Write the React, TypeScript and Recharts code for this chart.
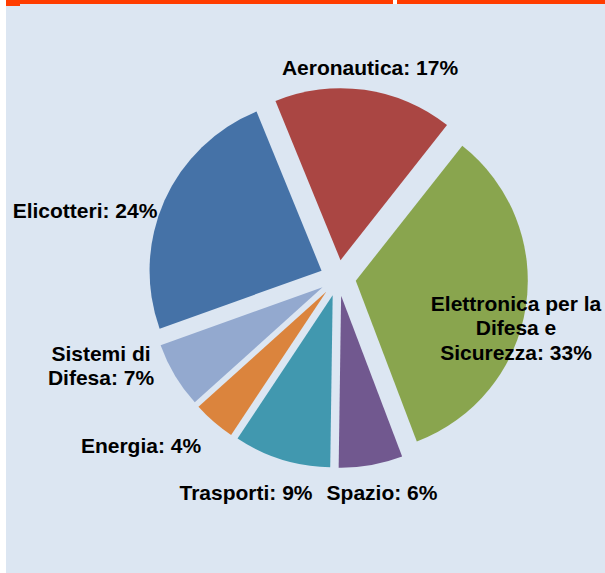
import { PieChart, Pie, Cell, Sector } from 'recharts'

const categories = [
  'Elicotteri',
  'Aeronautica',
  'Elettronica per la\nDifesa e\nSicurezza',
  'Spazio',
  'Trasporti',
  'Energia',
  'Sistemi di\nDifesa',
]
// slice sizes as drawn in the picture (%)
const shares = [24.3, 16.8, 33.6, 6.0, 9.1, 4.0, 6.2]
// percentages as printed on the labels
const labelPct = [24, 17, 33, 6, 9, 4, 7]

const COLORS = ['#4572A7', '#AA4643', '#89A54E', '#71588F', '#4198AF', '#DB843D', '#93A9CF']
// label centre, as offset from the pie centre (excel "best fit" placement)
const LABEL_POS: [number, number][] = [
  [-253, -68],
  [32, -211],
  [178, 49],
  [44, 214],
  [-92, 214],
  [-197, 167],
  [-237, 87],
]

const data = categories.map((name, i) => ({ name, value: shares[i] }))

const W = 605
const H = 573
const CX = 338
const CY = 278
const R = 172
const EXPLODE = 18
const START = -160.3
const RAD = Math.PI / 180
const FONT = 21
const LINE_H = 24.5

function ExplodedSlice(props: any) {
  const { cx, cy, midAngle, innerRadius, outerRadius, startAngle, endAngle, index, payload } = props
  const ox = Math.cos(-midAngle * RAD) * EXPLODE
  const oy = Math.sin(-midAngle * RAD) * EXPLODE
  const name: string = payload?.name ?? props.name
  const lines = `${name}: ${labelPct[index]}%`.split('\n')
  const [dx, dy] = LABEL_POS[index]
  const lx = cx + dx
  const ly0 = cy + dy - ((lines.length - 1) * LINE_H) / 2
  return (
    <g>
      <Sector
        cx={cx + ox}
        cy={cy + oy}
        innerRadius={innerRadius}
        outerRadius={outerRadius}
        startAngle={startAngle}
        endAngle={endAngle}
        fill={COLORS[index]}
        stroke="none"
      />
      <text
        x={lx}
        y={ly0}
        textAnchor="middle"
        dominantBaseline="central"
        fontFamily="'Liberation Sans', Arial, sans-serif"
        fontWeight="bold"
        fontSize={FONT}
        fill="#000"
      >
        {lines.map((ln, i) => (
          <tspan key={i} x={lx} y={ly0 + i * LINE_H}>
            {ln}
          </tspan>
        ))}
      </text>
    </g>
  )
}

export default function App() {
  return (
    <div style={{ position: 'absolute', left: 0, top: 0, width: W, height: H, background: '#fff' }}>
      {/* slide background + orange header rule */}
      <div style={{ position: 'absolute', left: 6, top: 0, width: W - 6, height: H, background: '#DCE6F2' }} />
      <div style={{ position: 'absolute', left: 6, top: 0, width: W - 6, height: 4, background: '#FF3C00' }} />
      <div style={{ position: 'absolute', left: 6, top: 0, width: 14, height: 6, background: '#FF3C00' }} />
      <div style={{ position: 'absolute', left: 393, top: 0, width: 4, height: 4, background: '#fff' }} />
      <div style={{ position: 'absolute', left: 0, top: 0 }}>
        <PieChart width={W} height={H} margin={{ top: 0, right: 0, bottom: 0, left: 0 }}>
          <Pie
            data={data}
            dataKey="value"
            nameKey="name"
            cx={CX}
            cy={CY}
            innerRadius={0}
            outerRadius={R}
            startAngle={START}
            endAngle={START - 360}
            stroke="none"
            labelLine={false}
            label={ExplodedSlice}
            isAnimationActive={false}
          >
            {data.map((d) => (
              <Cell key={d.name} fill="transparent" stroke="none" />
            ))}
          </Pie>
        </PieChart>
      </div>
    </div>
  )
}
